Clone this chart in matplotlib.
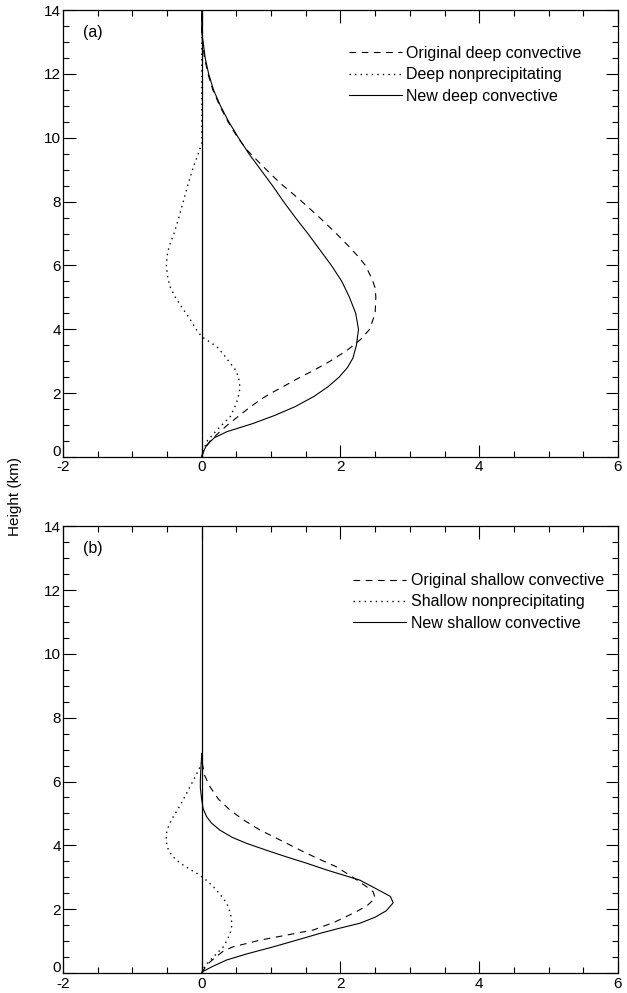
import matplotlib
matplotlib.use("Agg")
import matplotlib.pyplot as plt
import matplotlib.transforms as mtrans
from matplotlib.ticker import MultipleLocator, FuncFormatter

plt.rcParams['font.family'] = ['Liberation Sans', 'DejaVu Sans']
plt.rcParams['axes.unicode_minus'] = False

# (a) deep convective profiles (x value, height in km)
deep_orig_z = [0.0, 0.2, 0.5, 0.75, 1.0, 1.26, 1.5, 1.79, 2.0, 2.2, 2.5, 2.72, 3.0, 3.35, 3.7, 4.0, 4.5, 5.0, 5.3,
               5.6, 6.0, 6.27, 6.6, 7.0, 7.5, 8.05, 8.6, 9.2, 9.6, 10.0, 10.5, 11.0, 11.5, 12.0, 12.5, 13.0, 13.3, 14.0]
deep_orig_x = [0.0, 0.03, 0.12, 0.24, 0.37, 0.52, 0.66, 0.84, 1.0, 1.17, 1.42, 1.62, 1.85, 2.10, 2.30, 2.42, 2.50, 2.51, 2.50,
               2.45, 2.36, 2.26, 2.12, 1.94, 1.70, 1.42, 1.12, 0.84, 0.66, 0.52, 0.38, 0.26, 0.16, 0.09, 0.04, 0.01, 0.0, 0.0]

deep_np_z = [0.0, 0.1, 0.48, 0.85, 1.26, 1.68, 2.0, 2.2, 2.51, 2.75, 2.94, 3.2, 3.45, 3.6, 3.77, 4.0, 4.39, 4.7, 5.0,
             5.3, 5.6, 6.0, 6.3, 6.6, 7.0, 7.5, 8.05, 8.6, 9.09, 9.5, 9.83, 14.0]
deep_np_x = [0.0, 0.01, 0.07, 0.22, 0.41, 0.50, 0.54, 0.55, 0.53, 0.48, 0.41, 0.32, 0.22, 0.12, 0.0, -0.08, -0.19, -0.29, -0.38,
             -0.45, -0.49, -0.51, -0.50, -0.47, -0.40, -0.33, -0.26, -0.19, -0.12, -0.05, 0.0, 0.0]

deep_new_z = [0.0, 0.1, 0.37, 0.6, 0.79, 1.05, 1.3, 1.58, 1.9, 2.2, 2.5, 2.8, 3.1, 3.5, 4.0, 4.5, 5.0, 5.5, 6.0, 6.5,
              7.0, 7.5, 8.0, 8.5, 9.0, 9.5, 10.0, 10.5, 11.0, 11.5, 12.0, 12.5, 13.0, 13.3, 14.0]
deep_new_x = [0.0, 0.01, 0.07, 0.18, 0.36, 0.74, 1.05, 1.35, 1.62, 1.82, 1.98, 2.10, 2.18, 2.23, 2.26, 2.22, 2.13, 2.02, 1.87, 1.70,
              1.53, 1.35, 1.18, 1.02, 0.85, 0.68, 0.53, 0.39, 0.27, 0.17, 0.10, 0.05, 0.02, 0.0, 0.0]

# (b) shallow convective profiles
shal_orig_z = [0.0, 0.25, 0.5, 0.7, 0.82, 1.03, 1.2, 1.35, 1.6, 1.87, 2.1, 2.35, 2.55, 2.7, 3.0, 3.33, 3.6, 3.85,
               4.2, 4.48, 4.8, 5.1, 5.45, 5.83, 6.2, 6.67, 6.9]
shal_orig_x = [0.0, 0.07, 0.2, 0.32, 0.45, 0.84, 1.25, 1.61, 1.92, 2.18, 2.38, 2.50, 2.47, 2.38, 2.18, 1.94, 1.66, 1.42,
               1.10, 0.84, 0.60, 0.41, 0.24, 0.12, 0.04, 0.0, 0.0]

shal_np_z = [0.0, 0.1, 0.3, 0.51, 0.82, 1.05, 1.24, 1.45, 1.66, 1.9, 2.19, 2.45, 2.7, 2.9, 3.07, 3.25, 3.44, 3.65,
             3.85, 4.1, 4.38, 4.65, 4.9, 5.15, 5.42, 5.75, 6.04, 6.3, 6.57, 6.9]
shal_np_x = [0.0, 0.01, 0.08, 0.17, 0.31, 0.37, 0.41, 0.43, 0.43, 0.41, 0.36, 0.27, 0.17, 0.07, -0.03, -0.17, -0.31, -0.42,
             -0.48, -0.51, -0.51, -0.47, -0.41, -0.34, -0.27, -0.19, -0.12, -0.06, 0.0, 0.0]

shal_new_z = [0.0, 0.04, 0.2, 0.41, 0.6, 0.82, 1.05, 1.24, 1.4, 1.56, 1.75, 1.95, 2.2, 2.4, 2.6, 2.91, 3.23, 3.45,
              3.64, 3.85, 4.06, 4.25, 4.48, 4.7, 4.9, 5.15, 5.42, 5.8, 6.04, 6.5, 6.88]
shal_new_x = [0.0, 0.01, 0.15, 0.36, 0.65, 1.03, 1.40, 1.70, 1.98, 2.28, 2.50, 2.66, 2.76, 2.72, 2.55, 2.28, 1.80, 1.50,
              1.22, 0.93, 0.65, 0.44, 0.26, 0.14, 0.07, 0.02, 0.0, -0.02, -0.02, -0.01, 0.0]

panels = [
    ("(a)", ["Original deep convective", "Deep nonprecipitating", "New deep convective"],
     (deep_orig_x, deep_orig_z), (deep_np_x, deep_np_z), (deep_new_x, deep_new_z), (0.935, 0.92)),
    ("(b)", ["Original shallow convective", "Shallow nonprecipitating", "New shallow convective"],
     (shal_orig_x, shal_orig_z), (shal_np_x, shal_np_z), (shal_new_x, shal_new_z), (0.975, 0.895)),
]

fig = plt.figure(figsize=(6.27, 9.93), dpi=100)
boxes = [[0.1005, 0.5398, 0.885, 0.450], [0.1005, 0.0201, 0.885, 0.450]]

for box, (tag, names, orig, nonp, new, anchor) in zip(boxes, panels):
    ax = fig.add_axes(box)
    ax.plot([0, 0], [0, 14], color='black', lw=0.9)
    ax.plot(orig[0], orig[1], color='black', lw=0.8, ls=(0, (6, 5)), label=names[0])
    ax.plot(nonp[0], nonp[1], color='black', lw=1.0, ls=(0, (1, 3)), label=names[1])
    ax.plot(new[0], new[1], color='black', lw=0.8, ls='-', label=names[2])

    ax.set_xlim(-2, 6)
    ax.set_ylim(0, 14)
    ax.xaxis.set_major_locator(MultipleLocator(2))
    ax.xaxis.set_minor_locator(MultipleLocator(0.5))
    ax.yaxis.set_major_locator(MultipleLocator(2))
    ax.yaxis.set_minor_locator(MultipleLocator(0.5))
    # the "0" height label is drawn separately, sitting just above the x axis
    ax.yaxis.set_major_formatter(FuncFormatter(lambda v, p: '' if v == 0 else f'{v:g}'))
    ax.tick_params(which='both', direction='in', top=True, right=True, labelsize=11, width=0.8)
    ax.tick_params(which='major', length=9)
    ax.tick_params(which='minor', length=4.5)
    ax.tick_params(axis='y', which='major', pad=1.5)
    ax.tick_params(axis='x', which='major', pad=2.5)
    for s in ax.spines.values():
        s.set_linewidth(0.9)

    off = mtrans.offset_copy(ax.get_yaxis_transform(), fig=fig, x=-1.5, y=0.8, units='points')
    ax.text(0, 0, '0', transform=off, ha='right', va='baseline', fontsize=11)

    ax.text(0.036, 0.95, tag, transform=ax.transAxes, fontsize=11.5, va='center', ha='left')
    ax.legend(loc='upper right', bbox_to_anchor=anchor, frameon=False, fontsize=11.5,
              handlelength=3.3, handletextpad=0.3, labelspacing=0.4, borderaxespad=0,
              borderpad=0)

fig.text(0.024, 0.4995, "Height (km)", rotation=90, va='center', ha='center', fontsize=11)

fig.savefig("out.png", dpi=100)
